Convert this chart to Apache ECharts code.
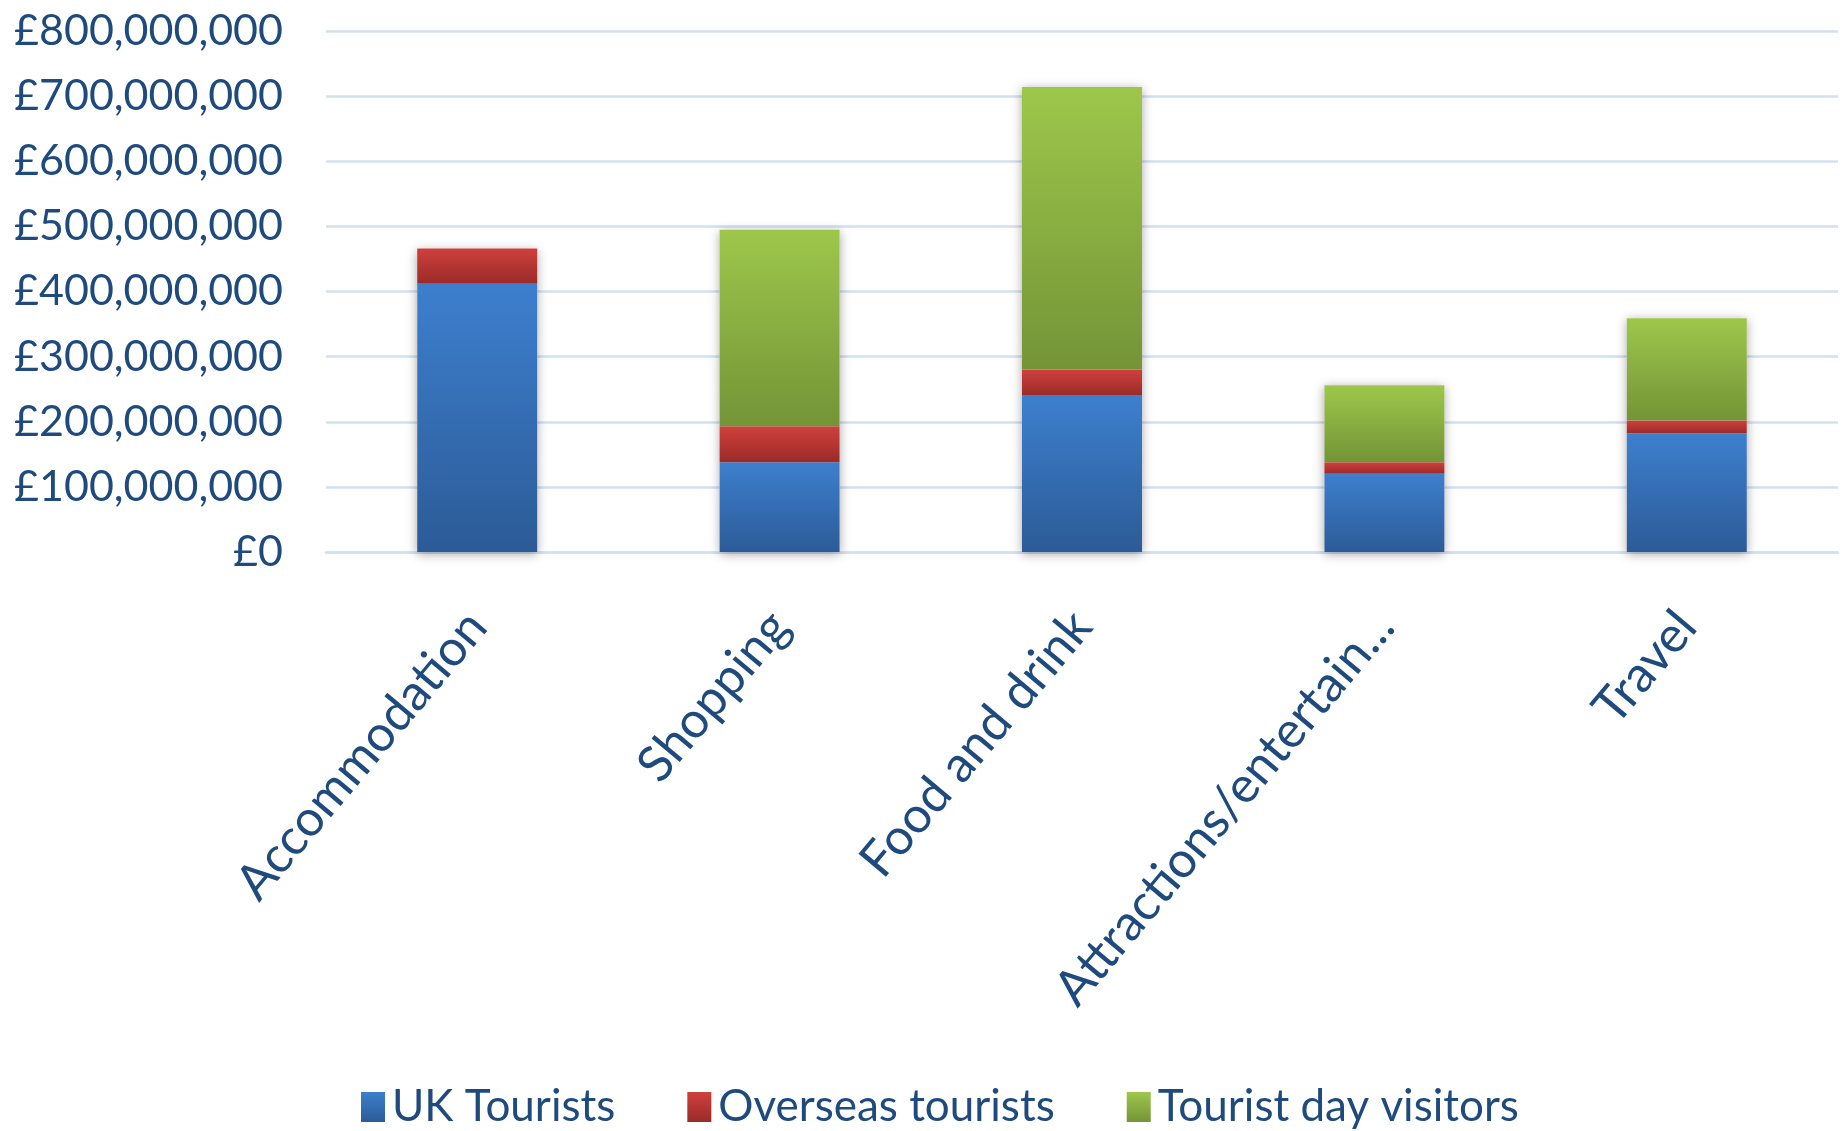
<!DOCTYPE html>
<html>
<head>
<meta charset="utf-8">
<script src="https://cdn.jsdelivr.net/npm/echarts@6/dist/echarts.min.js"></script>
<style>
  html, body { margin: 0; padding: 0; background: #ffffff; }
  #chart { width: 1844px; height: 1131px; }
</style>
</head>
<body>
<div id="chart"></div>
<script>
// Visitor spend by category (GBP)
const categories = ['Accommodation', 'Shopping', 'Food and drink', 'Attractions/entertainment', 'Travel'];
const ukTourists = [412000000, 138000000, 241000000, 120000000, 182000000];
const overseasTourists = [54000000, 55000000, 39000000, 18000000, 20000000];
const dayVisitors = [0, 302000000, 434000000, 118000000, 157000000];
const seriesNames = ['UK Tourists', 'Overseas tourists', 'Tourist day visitors'];
const yTicks = { min: 0, max: 800000000, interval: 100000000 };

const TEXT = '#1F4A7E';
const FONT = 'Lato, "Open Sans", sans-serif';

function grad(top, bottom) {
  return new echarts.graphic.LinearGradient(0, 0, 0, 1, [
    { offset: 0, color: top },
    { offset: 1, color: bottom }
  ]);
}

// stack totals, used for a soft shadow drawn behind each full column
const totals = categories.map((_, i) => ukTourists[i] + overseasTourists[i] + dayVisitors[i]);

function money(v) {
  return '£' + v.toLocaleString('en-GB');
}

const chart = echarts.init(document.getElementById('chart'), null, { renderer: 'canvas' });

chart.setOption({
  animation: false,
  backgroundColor: '#ffffff',
  textStyle: { fontFamily: FONT, color: TEXT },
  grid: { left: 326, right: 6, top: 31, bottom: 579, containLabel: false },
  legend: {
    data: seriesNames,
    left: 356,
    top: 1080,
    itemWidth: 24,
    itemHeight: 30,
    itemGap: 72,
    icon: 'rect',
    textStyle: { fontFamily: FONT, fontSize: 44, color: TEXT, padding: [0, 0, 0, 2] }
  },
  xAxis: {
    type: 'category',
    data: categories,
    axisLine: { show: true, lineStyle: { color: '#D3E0F0', width: 2.5 } },
    axisTick: { show: false },
    axisLabel: {
      rotate: 50,
      margin: 66,
      fontSize: 50,
      fontFamily: FONT,
      color: TEXT,
      interval: 0,
      formatter: v => (v.length > 21 ? v.slice(0, 21) + '...' : v)
    }
  },
  yAxis: {
    type: 'value',
    min: yTicks.min,
    max: yTicks.max,
    interval: yTicks.interval,
    axisLine: { show: false },
    axisTick: { show: false },
    splitLine: { show: true, lineStyle: { color: '#D3E0F0', width: 2.5 } },
    axisLabel: {
      margin: 43,
      fontSize: 43,
      fontFamily: FONT,
      color: TEXT,
      formatter: money
    }
  },
  series: [
    {
      name: 'shadow',
      type: 'bar',
      data: totals,
      barWidth: 120,
      barGap: '-100%',
      z: 1,
      silent: true,
      itemStyle: {
        color: '#ffffff',
        shadowBlur: 10,
        shadowColor: 'rgba(0,0,0,0.35)',
        shadowOffsetY: 2
      }
    },
    {
      name: seriesNames[0],
      type: 'bar',
      stack: 'spend',
      data: ukTourists,
      barWidth: 120,
      barGap: '-100%',
      z: 2,
      itemStyle: { color: grad('#3D7FCE', '#2C5B97') }
    },
    {
      name: seriesNames[1],
      type: 'bar',
      stack: 'spend',
      data: overseasTourists,
      barWidth: 120,
      z: 2,
      itemStyle: { color: grad('#D0403D', '#992B28') }
    },
    {
      name: seriesNames[2],
      type: 'bar',
      stack: 'spend',
      data: dayVisitors,
      barWidth: 120,
      z: 2,
      itemStyle: { color: grad('#9DC74B', '#749437') }
    }
  ]
});
</script>
</body>
</html>
